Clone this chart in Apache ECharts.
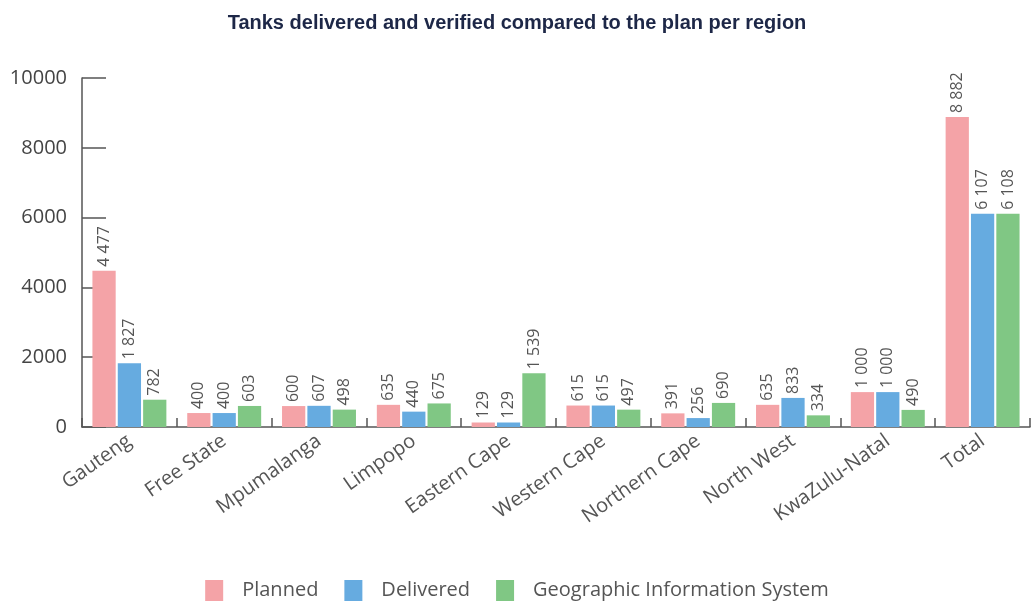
<!DOCTYPE html>
<html><head><meta charset="utf-8">
<script src="https://cdn.jsdelivr.net/npm/echarts@6/dist/echarts.min.js"></script>
<style>html,body{margin:0;padding:0;background:#fff}#c{width:1034px;height:603px}</style>
</head><body><div id="c"></div>
<script>
var categories = ["Gauteng","Free State","Mpumalanga","Limpopo","Eastern Cape","Western Cape","Northern Cape","North West","KwaZulu-Natal","Total"];
var planned = [4477,400,600,635,129,615,391,635,1000,8882];
var delivered = [1827,400,607,440,129,615,256,833,1000,6107];
var gis = [782,603,498,675,1539,497,690,334,490,6108];
var yTicks = [0,2000,4000,6000,8000,10000];

function fmt(v){return String(v).replace(/\B(?=(\d{3})+(?!\d))/g,' ');}
var font = "Open Sans";
function series(name, data, color){
  return {name:name,type:'bar',data:data,barGap:'9%',barCategoryGap:'22%',
    itemStyle:{color:color},
    label:{show:true,position:'top',rotate:90,align:'left',verticalAlign:'middle',distance:4,
      color:'#555',fontFamily:font,fontSize:16,formatter:function(p){return fmt(p.value);}}};
}
var chart = echarts.init(document.getElementById('c'));
chart.setOption({
  animation:false,
  title:{text:'Tanks delivered and verified compared to the plan per region',left:'center',top:8,
    textStyle:{fontFamily:'Liberation Sans',fontSize:20,fontWeight:'bold',color:'#1d2747'}},
  legend:{top:575,left:'center',itemWidth:18,itemHeight:21,itemGap:26,icon:'rect',
    textStyle:{fontFamily:font,fontSize:20,color:'#555',padding:[0,0,0,14]},
    data:['Planned','Delivered','Geographic Information System']},
  grid:{left:82,right:4,top:78,bottom:176,containLabel:false},
  xAxis:{type:'category',data:categories,
    axisLine:{lineStyle:{color:'#555',width:1.5}},
    axisTick:{show:true,inside:true,length:9,alignWithLabel:false,lineStyle:{color:'#555',width:1.5}},
    axisLabel:{rotate:35,interval:0,fontFamily:font,fontSize:20,color:'#555',margin:12}},
  yAxis:{type:'value',min:yTicks[0],max:yTicks[yTicks.length-1],interval:2000,
    splitLine:{show:false},
    axisLine:{show:true,lineStyle:{color:'#555',width:1.5}},
    axisTick:{show:true,inside:true,length:24,lineStyle:{color:'#555',width:1.5}},
    axisLabel:{fontFamily:font,fontSize:20,color:'#444',margin:15,formatter:function(v){return String(v);}}},
  series:[series('Planned',planned,'#f4a3a7'),series('Delivered',delivered,'#66abe0'),series('Geographic Information System',gis,'#80c784')]
});
</script></body></html>
